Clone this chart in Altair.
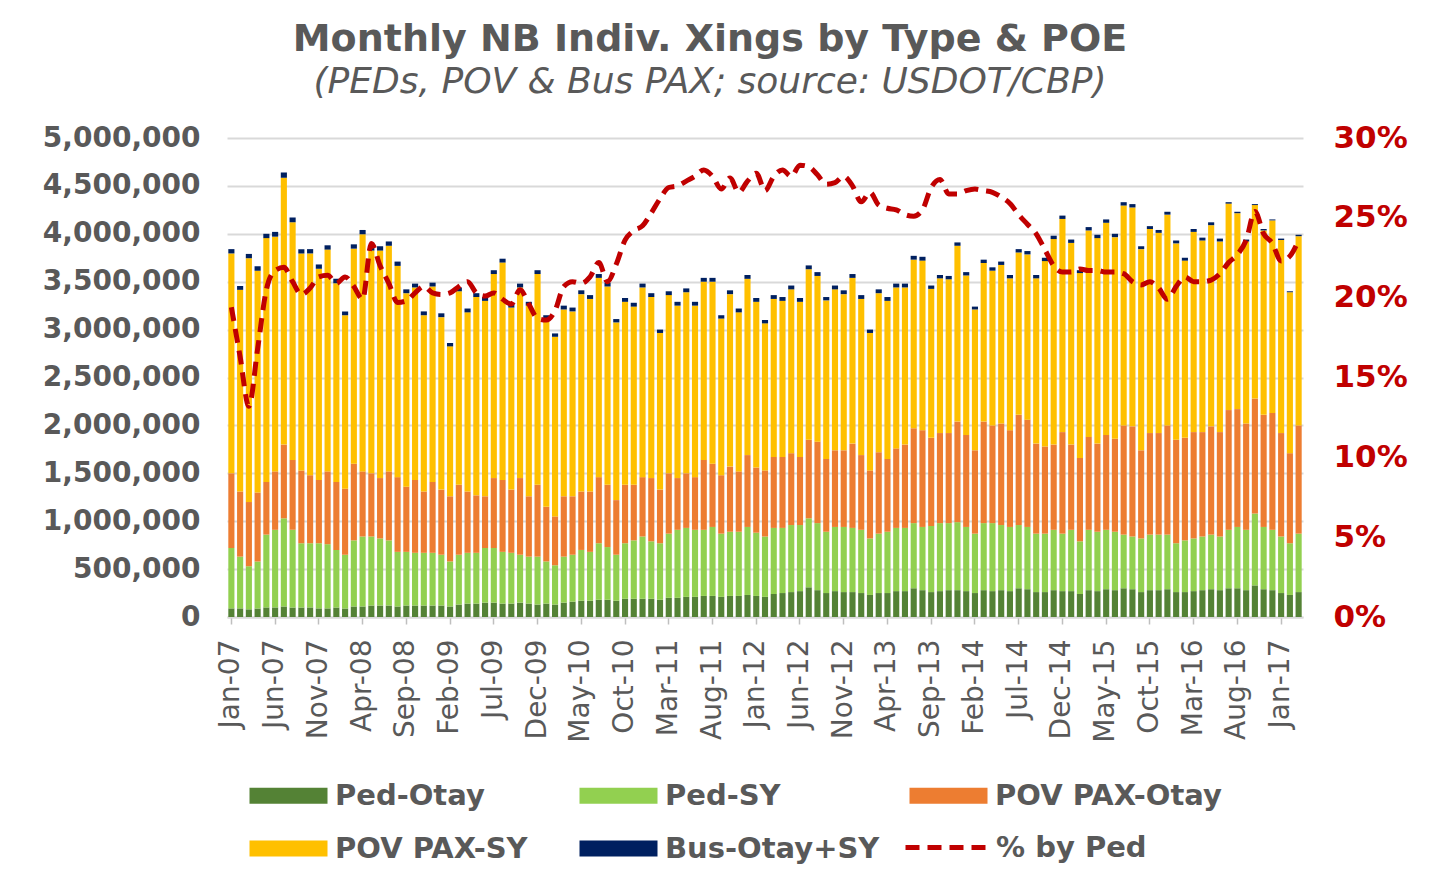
import altair as alt
import pandas as pd

MONTH_NAMES = ["Jan", "Feb", "Mar", "Apr", "May", "Jun",
               "Jul", "Aug", "Sep", "Oct", "Nov", "Dec"]
months = [f"{m}-{y:02d}" for y in range(7, 18) for m in MONTH_NAMES][:123]
tick_labels = months[::5]

series_names = ["Ped-Otay", "Ped-SY", "POV PAX-Otay", "POV PAX-SY", "Bus-Otay+SY"]
series_colors = ["#548235", "#92D050", "#ED7D31", "#FFC000", "#002060"]
line_name = "% by Ped"

# bar tops (all crossings incl. bus), thousands
total_k = [
    3840, 3455, 3790, 3660, 4000, 4020, 4640, 4170, 3840, 3840, 3680, 3880,
    3530, 3190, 3890, 4040, 3870, 3870, 3920, 3710, 3420, 3480, 3190, 3490,
    3170, 2860, 3440, 3220, 3380, 3340, 3620, 3740, 3270, 3480, 3290, 3620,
    3150, 2960, 3250, 3230, 3410, 3360, 3580, 3490, 3110, 3330, 3280, 3480,
    3380, 3000, 3400, 3290, 3430, 3290, 3540, 3540, 3150, 3410, 3220, 3570,
    3330, 3100, 3360, 3340, 3460, 3330, 3670, 3600, 3340, 3460, 3410, 3580,
    3360, 3000, 3420, 3340, 3480, 3480, 3770, 3760, 3460, 3570, 3560, 3910,
    3600, 3240, 3730, 3650, 3710, 3570, 3840, 3820, 3570, 3750, 3980, 4190,
    3940, 3620, 4070, 3990, 4150, 4000, 4330, 4310, 3870, 4080, 4040, 4230,
    3930, 3750, 4050, 3960, 4120, 3950, 4330, 4230, 3940, 4310, 4050, 4150,
    3950, 3400, 3990,
]
# top of the POV PAX-Otay segment (peds + POV Otay), thousands
pov_otay_top_k = [
    1500, 1310, 1200, 1300, 1410, 1520, 1800, 1640, 1530, 1480, 1430, 1520,
    1410, 1340, 1600, 1520, 1500, 1450, 1520, 1460, 1360, 1430, 1310, 1410,
    1330, 1260, 1380, 1310, 1270, 1260, 1450, 1430, 1330, 1450, 1260, 1380,
    1150, 1050, 1260, 1260, 1310, 1310, 1460, 1380, 1220, 1380, 1380, 1460,
    1450, 1330, 1500, 1450, 1500, 1460, 1640, 1600, 1480, 1570, 1520, 1690,
    1560, 1530, 1670, 1670, 1710, 1670, 1850, 1830, 1650, 1740, 1740, 1810,
    1690, 1530, 1720, 1650, 1760, 1800, 1970, 1950, 1870, 1920, 1920, 2040,
    1900, 1740, 2040, 2000, 2020, 1950, 2110, 2060, 1810, 1780, 1800, 1930,
    1800, 1660, 1880, 1810, 1900, 1860, 2000, 1990, 1740, 1920, 1920, 2000,
    1850, 1870, 1930, 1930, 1990, 1930, 2160, 2170, 2020, 2280, 2110, 2130,
    1920, 1710, 2000,
]
# top of the pedestrian segments (Ped-Otay + Ped-SY), thousands
ped_top_k = [
    720, 630, 530, 580, 860, 910, 1030, 910, 770, 770, 770, 760,
    700, 650, 800, 840, 840, 820, 800, 680, 680, 670, 670, 670,
    650, 580, 650, 670, 670, 720, 720, 680, 670, 650, 630, 630,
    580, 540, 630, 650, 700, 680, 770, 730, 650, 770, 800, 840,
    790, 770, 870, 910, 930, 910, 910, 940, 870, 890, 890, 940,
    880, 840, 930, 930, 960, 960, 1030, 980, 890, 940, 940, 930,
    910, 820, 870, 890, 930, 930, 980, 940, 950, 980, 980, 990,
    940, 870, 980, 980, 960, 940, 960, 940, 870, 870, 910, 870,
    910, 790, 910, 890, 910, 890, 860, 840, 820, 860, 860, 860,
    770, 800, 820, 840, 860, 840, 910, 940, 910, 1080, 940, 910,
    840, 770, 870,
]
# Ped-Otay, thousands
ped_otay_k = [
    90, 90, 80, 90, 100, 100, 110, 100, 100, 100, 90, 90,
    100, 90, 110, 110, 120, 120, 120, 110, 120, 120, 120, 120,
    120, 110, 130, 140, 140, 150, 150, 140, 140, 150, 140, 130,
    140, 130, 150, 160, 170, 170, 180, 180, 170, 190, 190, 190,
    190, 180, 200, 200, 210, 210, 220, 220, 210, 220, 220, 230,
    220, 210, 240, 250, 260, 270, 310, 280, 250, 270, 260, 260,
    250, 230, 250, 250, 270, 270, 300, 280, 260, 270, 280, 280,
    270, 250, 280, 270, 280, 270, 300, 290, 260, 260, 280, 270,
    270, 240, 280, 270, 290, 280, 300, 290, 260, 280, 280, 290,
    260, 260, 270, 280, 290, 280, 300, 300, 280, 330, 290, 280,
    250, 230, 260,
]
# Bus-Otay+SY, thousands
bus_k = [
    45, 40, 45, 45, 45, 50, 55, 50, 45, 45, 45, 45,
    45, 40, 45, 45, 45, 45, 45, 45, 40, 40, 40, 40,
    40, 35, 40, 40, 40, 40, 40, 40, 40, 40, 40, 40,
    40, 35, 40, 40, 40, 40, 40, 40, 35, 40, 40, 40,
    40, 35, 40, 40, 40, 40, 40, 40, 35, 40, 40, 40,
    40, 35, 40, 40, 40, 40, 40, 40, 35, 40, 40, 40,
    40, 35, 40, 40, 40, 40, 40, 40, 35, 35, 35, 35,
    35, 30, 35, 35, 35, 35, 35, 35, 35, 35, 35, 35,
    35, 30, 35, 35, 35, 35, 35, 35, 30, 30, 30, 30,
    30, 30, 30, 30, 30, 30, 15, 15, 20, 10, 15, 10,
    15, 10, 15,
]
# % by Ped (percent)
ped_share_pct = [
    19.4, 16.3, 13.2, 16.8, 20.5, 21.7, 21.9, 21.0, 20.2, 20.6, 21.3, 21.4,
    20.9, 21.3, 20.7, 19.9, 23.4, 22.0, 20.9, 19.7, 19.8, 20.3, 20.7, 20.3,
    20.2, 20.3, 20.7, 21.0, 20.3, 20.1, 20.3, 19.9, 19.6, 20.5, 19.6, 18.7,
    18.6, 19.2, 20.7, 21.0, 20.9, 21.3, 22.2, 21.0, 22.1, 23.6, 24.2, 24.5,
    25.3, 26.2, 26.9, 27.0, 27.3, 27.6, 28.0, 27.6, 26.8, 27.5, 26.6, 27.3,
    27.8, 26.7, 27.6, 28.0, 27.6, 28.3, 28.2, 27.7, 27.1, 27.2, 27.6, 27.0,
    26.0, 26.6, 25.8, 25.6, 25.5, 25.2, 25.1, 25.5, 26.9, 27.4, 26.5, 26.5,
    26.7, 26.8, 26.7, 26.6, 26.3, 25.9, 25.2, 24.6, 24.0, 23.0, 22.0, 21.6,
    21.6, 21.8, 21.7, 21.7, 21.6, 21.6, 21.5, 21.0, 20.8, 21.0, 20.6, 19.9,
    20.7, 21.3, 21.0, 21.0, 21.1, 21.5, 22.2, 22.7, 23.6, 25.4, 24.0, 23.4,
    22.3, 22.6, 23.6,
]

rows = []
for i, m in enumerate(months):
    seg = [
        ped_otay_k[i],
        ped_top_k[i] - ped_otay_k[i],
        pov_otay_top_k[i] - ped_top_k[i],
        total_k[i] - bus_k[i] - pov_otay_top_k[i],
        bus_k[i],
    ]
    for s, v in enumerate(seg):
        rows.append({"Month": m, "Series": series_names[s], "Stack": s, "Value": v * 1000})
df_bars = pd.DataFrame(rows)
df_line = pd.DataFrame({"Month": months,
                        "Share": [p / 100 for p in ped_share_pct],
                        "Label": [line_name] * len(months)})

GREY = "#595959"
RED = "#C00000"
FONT = "DejaVu Sans"

common_legend = dict(
    title=None, orient="none", direction="horizontal", padding=0,
    symbolSize=400, symbolOffset=27,
    labelFont=FONT, labelFontSize=29, labelFontWeight="bold", labelColor=GREY,
    labelLimit=400,
)

bar_legend = alt.Legend(
    legendX=20, legendY=643, columns=3, gridAlign="all",
    columnPadding=15, rowPadding=23, labelOffset=32,
    symbolType="M-3.9,-0.8L3.9,-0.8L3.9,0.8L-3.9,0.8Z", symbolStrokeWidth=0,
    **common_legend,
)
line_legend = alt.Legend(
    legendX=678, legendY=695, labelOffset=35,
    symbolType="M-4.1,0L4.1,0", symbolStrokeWidth=5, symbolStrokeColor=RED,
    **common_legend,
)

x_enc = alt.X("Month:N", sort=months,
              scale=alt.Scale(paddingInner=0.3, paddingOuter=0.15),
              axis=alt.Axis(values=tick_labels, labelAngle=-90, title=None,
                            labelFont=FONT, labelFontSize=28, labelColor=GREY,
                            labelPadding=15, tickSize=7, tickColor="#BFBFBF", tickWidth=1.5,
                            domainColor="#D9D9D9", domainWidth=2, grid=False))

bars = alt.Chart(df_bars).mark_bar().encode(
    x=x_enc,
    y=alt.Y("Value:Q", stack="zero",
            scale=alt.Scale(domain=[0, 5000000], nice=False),
            axis=alt.Axis(values=list(range(0, 5000001, 500000)), format=",.0f", title=None,
                          labelFont=FONT, labelFontSize=28, labelFontWeight="bold",
                          labelColor=GREY, labelPadding=27, ticks=False, domain=False,
                          grid=True, gridColor="#D9D9D9", gridWidth=2)),
    color=alt.Color("Series:N", scale=alt.Scale(domain=series_names, range=series_colors),
                    legend=bar_legend),
    order=alt.Order("Stack:Q", sort="ascending"),
)

line = alt.Chart(df_line).mark_line(
    color=RED, strokeWidth=5, interpolate="monotone"
).encode(
    x=x_enc,
    y=alt.Y("Share:Q", scale=alt.Scale(domain=[0, 0.30], nice=False),
            axis=alt.Axis(orient="right", values=[0, 0.05, 0.10, 0.15, 0.20, 0.25, 0.30],
                          format=".0%", title=None, labelFont=FONT, labelFontSize=31,
                          labelFontWeight="bold", labelColor=RED, labelPadding=30,
                          ticks=False, domain=False, grid=False)),
    strokeDash=alt.StrokeDash("Label:N",
                              scale=alt.Scale(domain=[line_name], range=[[14, 8]]),
                              legend=line_legend),
)

chart = alt.layer(bars, line).resolve_scale(y="independent").properties(
    width=1076, height=479,
    autosize=alt.AutoSizeParams(type="none"),
    padding={"left": 219, "top": 130, "right": 126, "bottom": 260},
    title=alt.TitleParams(
        text="Monthly NB Indiv. Xings by Type & POE",
        subtitle="(PEDs, POV & Bus PAX; source: USDOT/CBP)",
        anchor="middle", dx=-55, offset=22,
        font=FONT, fontSize=38, fontWeight="bold", color=GREY,
        subtitleFont=FONT, subtitleFontSize=36, subtitleFontStyle="italic",
        subtitleColor=GREY, subtitlePadding=6,
    ),
).configure_view(stroke=None)

chart.save("out.html", embed_options={"renderer": "svg", "actions": False})
